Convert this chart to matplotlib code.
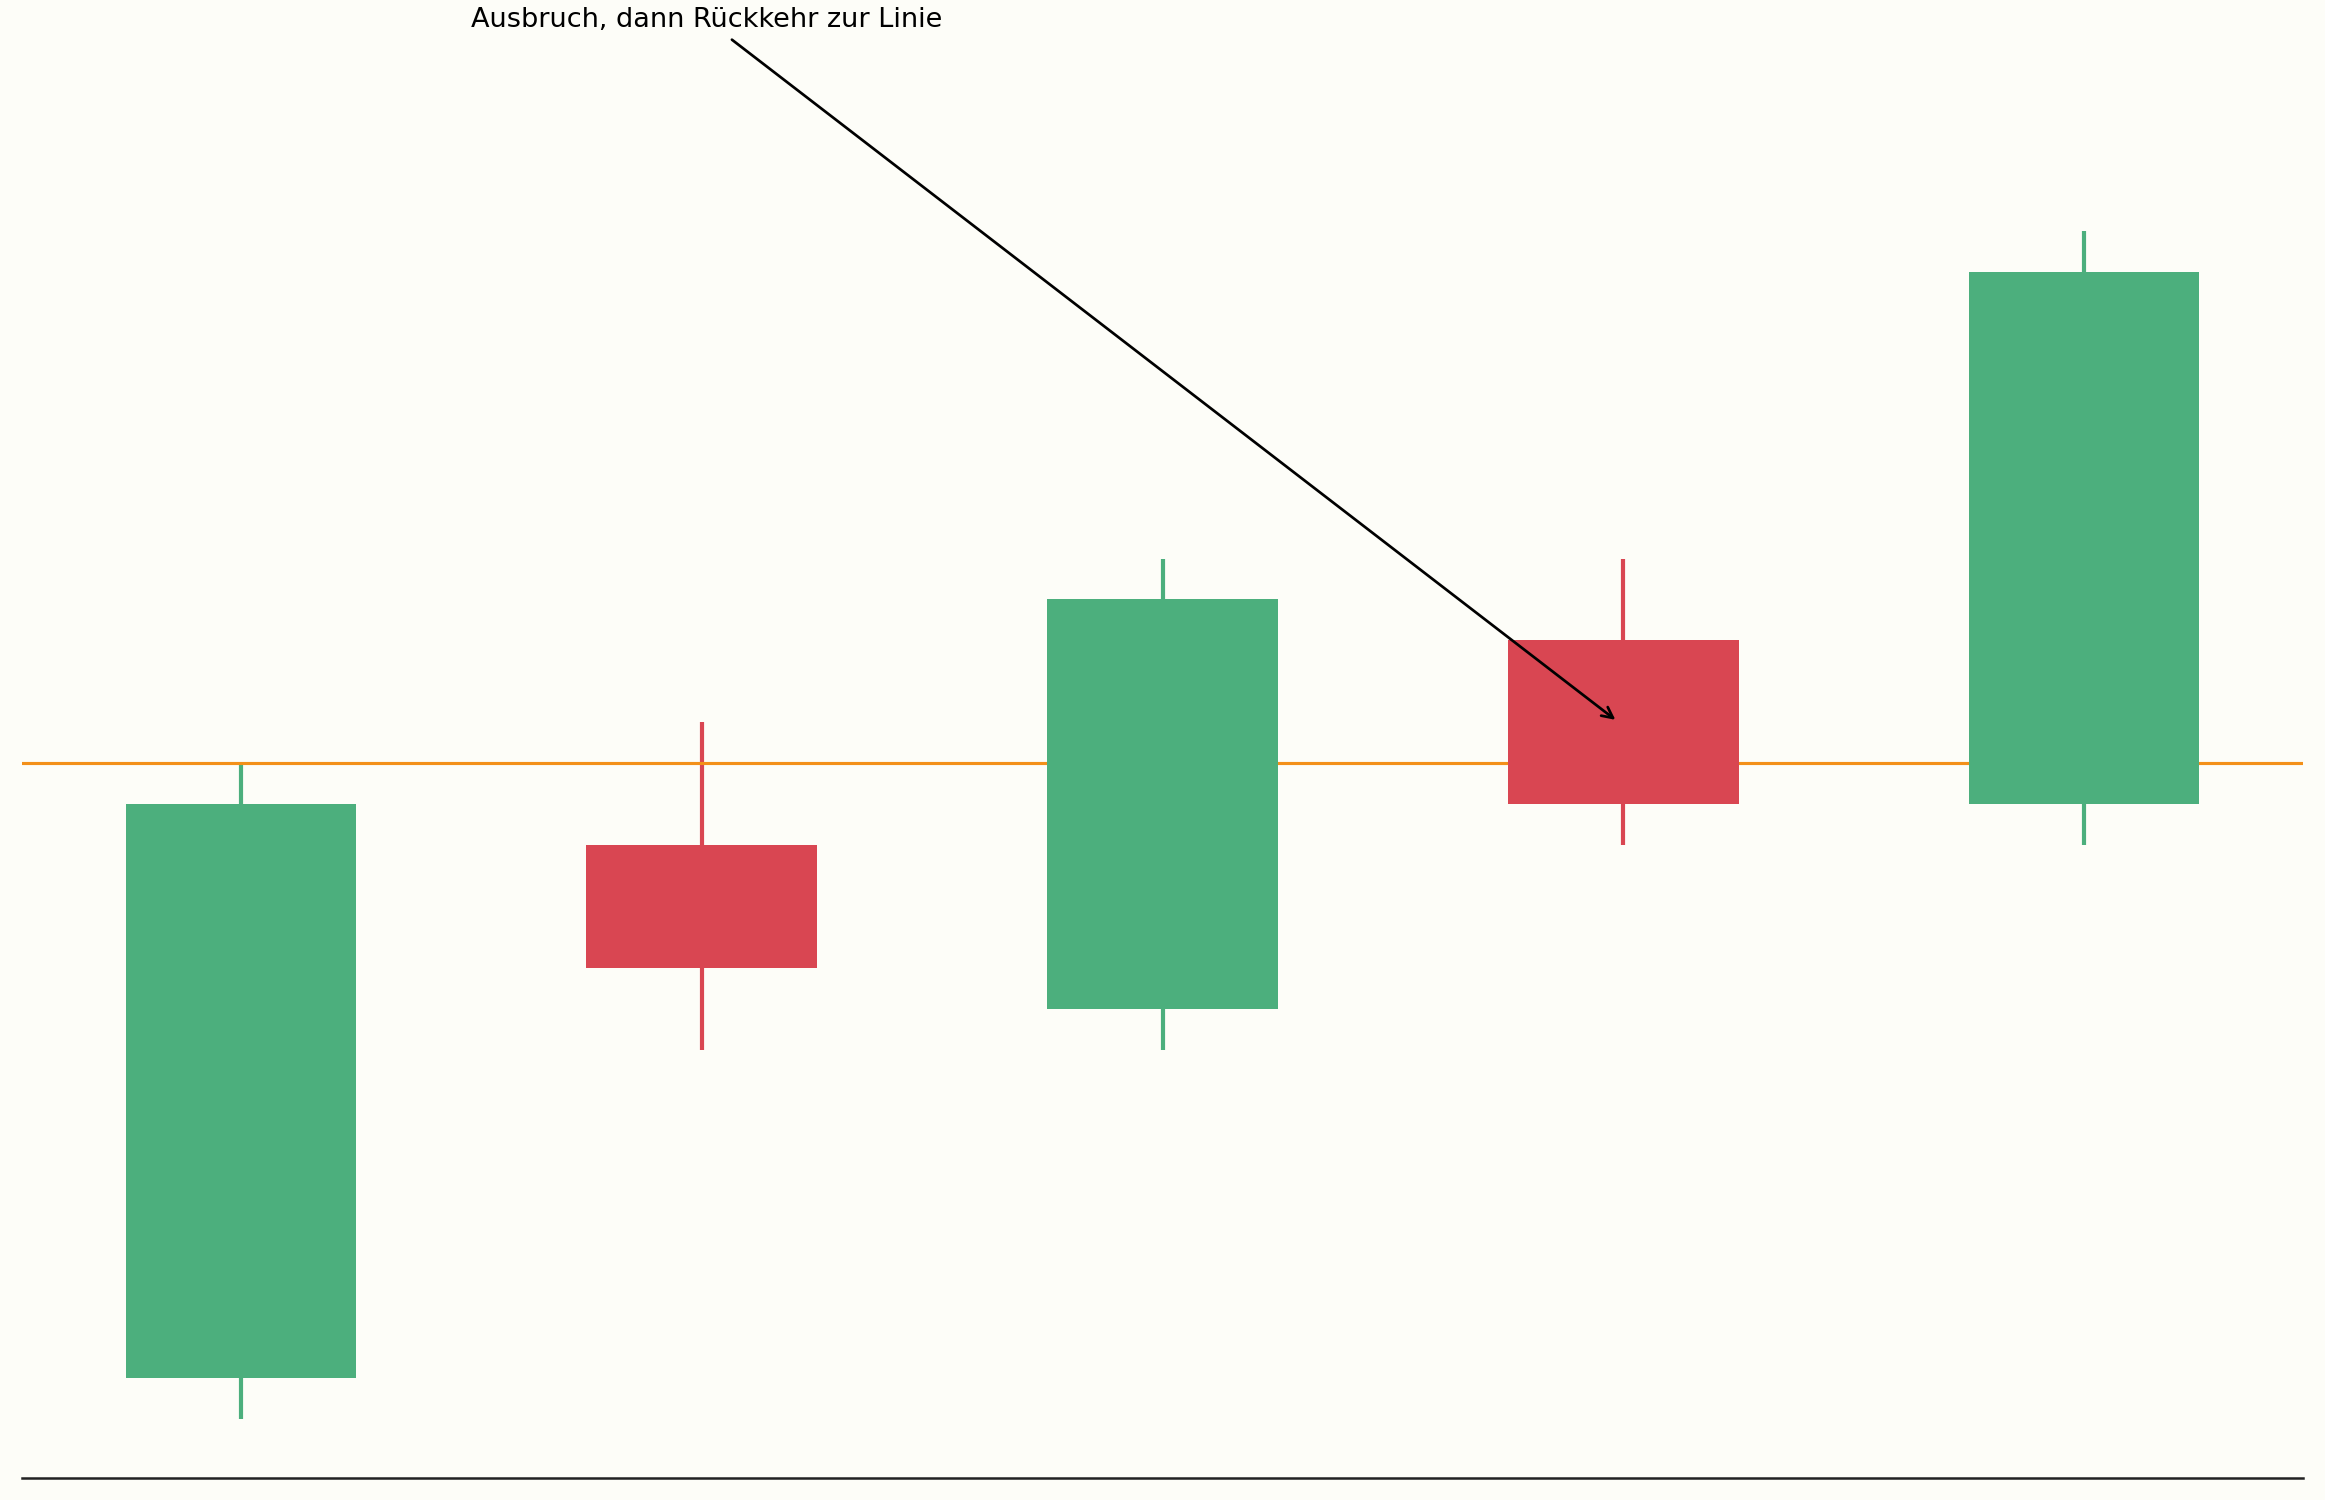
import matplotlib.pyplot as plt
import numpy as np

# Kerzen: Eröffnung, Hoch, Tief, Schluss
opens = [85, 98, 94, 103, 99]
highs = [100, 101, 105, 105, 113]
lows = [84, 93, 93, 98, 98]
closes = [99, 95, 104, 99, 112]
level = 100

up_color = '#4caf7d'
down_color = '#d94652'
bg = '#fdfdf8'

fig = plt.figure(figsize=(15.5, 10), dpi=150, facecolor=bg)
ax = fig.add_axes([22 / 2325, 22 / 1500, (2303 - 22) / 2325, 0.871])
ax.set_facecolor(bg)

x = np.arange(len(opens))
for i in x:
    up = closes[i] >= opens[i]
    c = up_color if up else down_color
    ax.vlines(i, lows[i], highs[i], color=c, linewidth=2, zorder=1)
    ax.bar(i, abs(closes[i] - opens[i]), bottom=min(opens[i], closes[i]),
           width=0.5, color=c, zorder=3)

ax.axhline(level, color='#f39019', linewidth=1.5, zorder=2)

ax.annotate('Ausbruch, dann Rückkehr zur Linie', xy=(2.99, 101.0), xytext=(1.01, 118.15),
            ha='center', va='center', fontsize=13, annotation_clip=False,
            arrowprops=dict(arrowstyle='->', color='black', lw=1.3))

for s in ['top', 'right', 'left']:
    ax.spines[s].set_visible(False)
ax.spines['bottom'].set_color('#222222')
ax.spines['bottom'].set_linewidth(1.2)
ax.set_xticks([])
ax.set_yticks([])

fig.savefig('out.png', dpi=150, facecolor=bg)
